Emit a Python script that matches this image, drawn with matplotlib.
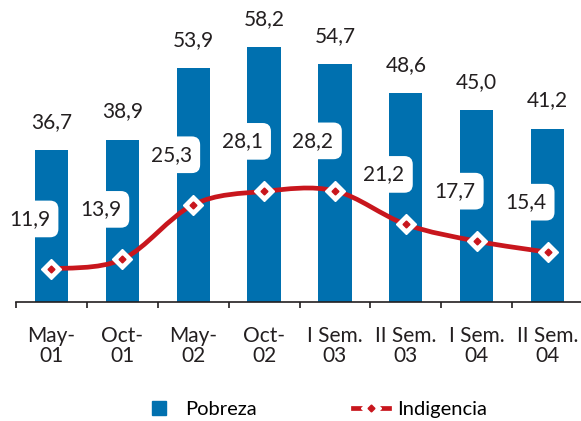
import matplotlib
matplotlib.use("Agg")
import matplotlib.pyplot as plt
from matplotlib.path import Path
from matplotlib.patches import PathPatch
from matplotlib.lines import Line2D

# data
periodos = ["May-\n01", "Oct-\n01", "May-\n02", "Oct-\n02",
            "I Sem.\n03", "II Sem.\n03", "I Sem.\n04", "II Sem.\n04"]
pobreza = [36.7, 38.9, 53.9, 58.2, 54.7, 48.6, 45.0, 41.2]
indigencia = [11.9, 13.9, 25.3, 28.1, 28.2, 21.2, 17.7, 15.4]

azul = "#0070AF"
rojo = "#C8161D"
gris = "#231F20"

def fmt(v):
	return f"{v:.1f}".replace(".", ",")

def smooth_path(xs, ys):
	# catmull-rom -> bezier, like the smoothed line in a spreadsheet chart
	pts = list(zip(xs, ys))
	verts = [pts[0]]
	codes = [Path.MOVETO]
	n = len(pts)
	for i in range(n - 1):
		p0 = pts[i - 1] if i > 0 else pts[i]
		p1 = pts[i]
		p2 = pts[i + 1]
		p3 = pts[i + 2] if i + 2 < n else pts[i + 1]
		c1 = (p1[0] + (p2[0] - p0[0]) / 6, p1[1] + (p2[1] - p0[1]) / 6)
		c2 = (p2[0] - (p3[0] - p1[0]) / 6, p2[1] - (p3[1] - p1[1]) / 6)
		verts += [c1, c2, p2]
		codes += [Path.CURVE4] * 3
	return Path(verts, codes)

plt.rcParams['font.family'] = ['Lato', 'DejaVu Sans']

fig = plt.figure(figsize=(5.81, 4.21), dpi=100)
ax = fig.add_axes([16 / 581, 119 / 421, 567 / 581, 292.2 / 421])

x = list(range(len(periodos)))
ax.bar(x, pobreza, width=0.47, color=azul, zorder=1)

fs = 15
for i, v in zip(x, pobreza):
	ax.annotate(fmt(v), (i, v), xytext=(0, 20.2), textcoords="offset points",
		ha="center", va="center", fontsize=fs, color=gris)

ax.add_patch(PathPatch(smooth_path(x, indigencia), fill=False, edgecolor=rojo,
	lw=3.4, capstyle="round", zorder=3))
ax.plot(x, indigencia, linestyle="none", marker="D", ms=10.5, mfc="white",
	mec="white", zorder=4)
ax.plot(x, indigencia, linestyle="none", marker="D", ms=3.5, mfc=rojo,
	mec=rojo, zorder=5)

for i, v in zip(x, indigencia):
	ax.annotate(fmt(v), (i, v), xytext=(-15.8, 36), textcoords="offset points",
		ha="center", va="center", fontsize=fs, color=gris, zorder=6,
		bbox=dict(boxstyle="round,pad=0.4", fc="white", ec="none"))

ax.set_xlim(-0.5, len(periodos) - 0.5)
ax.set_ylim(5, 66)
for s in ["left", "right", "top"]:
	ax.spines[s].set_visible(False)
ax.spines["bottom"].set_color(gris)
ax.spines["bottom"].set_linewidth(1.2)
ax.set_yticks([])
ax.set_xticks(x)
ax.set_xticklabels(periodos, fontsize=fs, color=gris, linespacing=0.95)
ax.tick_params(axis="x", which="major", length=0, pad=17.5)
ax.set_xticks([i - 0.5 for i in range(len(periodos) + 1)], minor=True)
ax.tick_params(axis="x", which="minor", length=4.5, width=1.2, color=gris)

h_pob = Line2D([], [], linestyle="none", marker="s", ms=10.5, mfc=azul, mec=azul)
h_ind1 = Line2D([], [], color=rojo, lw=3.4, marker="D", ms=10.5, mfc="white", mec="white")
h_ind2 = Line2D([], [], linestyle="none", marker="D", ms=3.5, mfc=rojo, mec=rojo)
fig.legend([h_pob, (h_ind1, h_ind2)], ["Pobreza", "Indigencia"], ncol=2,
	loc="center", bbox_to_anchor=(314 / 581, 12 / 421), frameon=False,
	fontsize=14.5, handlelength=1.8, columnspacing=4.8, handletextpad=0.4)

fig.savefig("out.png", dpi=100)
